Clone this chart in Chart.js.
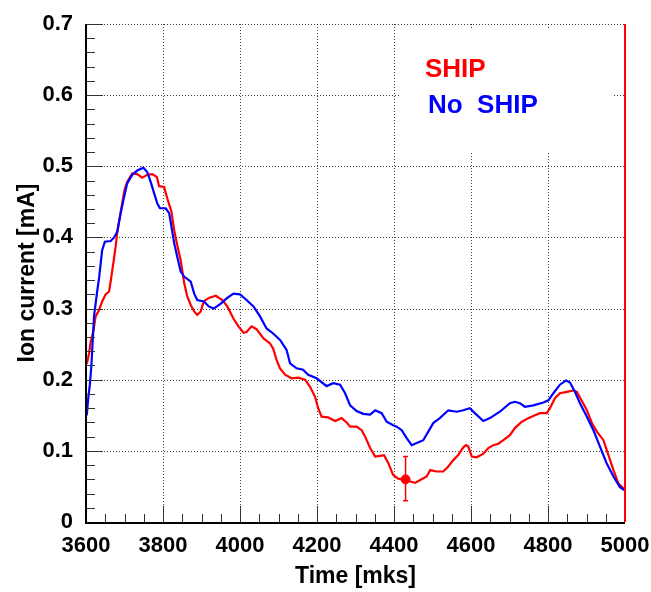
<!DOCTYPE html>
<html>
<head>
<meta charset="utf-8">
<script src="https://cdn.jsdelivr.net/npm/chart.js@4/dist/chart.umd.min.js"></script>
<style>
html,body{margin:0;padding:0;background:#fff;}
canvas{display:block;}
</style>
</head>
<body>
<canvas id="c" width="651" height="592"></canvas>
<script>
// ---- data ----
const noShipX = [3602,3606,3610,3614,3618,3621,3629,3634,3642,3649,3664,3673,3681,3690,3699,3707,3720,3733,3749,3759,3768,3777,3785,3792,3807,3816,3822,3829,3837,3846,3855,3872,3881,3889,3906,3919,3932,3950,3967,3983,4000,4017,4035,4052,4069,4086,4104,4121,4130,4147,4164,4177,4199,4225,4242,4260,4273,4286,4303,4320,4338,4351,4368,4381,4398,4407,4420,4433,4446,4459,4476,4489,4502,4519,4541,4563,4580,4597,4610,4632,4649,4675,4701,4714,4727,4740,4762,4788,4801,4814,4831,4847,4857,4870,4883,4901,4918,4935,4952,4970,4987,5000];
const noShipY = [0.150,0.175,0.193,0.220,0.260,0.290,0.324,0.343,0.382,0.394,0.395,0.400,0.408,0.434,0.457,0.476,0.488,0.494,0.498,0.492,0.478,0.462,0.448,0.441,0.441,0.434,0.415,0.392,0.373,0.352,0.345,0.338,0.321,0.312,0.310,0.303,0.300,0.307,0.315,0.321,0.320,0.312,0.303,0.289,0.272,0.265,0.256,0.242,0.223,0.216,0.214,0.207,0.202,0.191,0.195,0.193,0.181,0.164,0.156,0.152,0.151,0.157,0.153,0.141,0.136,0.134,0.129,0.118,0.108,0.111,0.115,0.127,0.139,0.146,0.157,0.155,0.157,0.160,0.153,0.142,0.146,0.155,0.167,0.169,0.167,0.162,0.164,0.168,0.171,0.181,0.193,0.199,0.196,0.183,0.167,0.148,0.129,0.106,0.083,0.064,0.049,0.044];

const shipX = [3602,3608,3612,3619,3625,3634,3642,3651,3660,3664,3671,3677,3681,3688,3694,3700,3707,3720,3733,3746,3759,3772,3784,3790,3803,3811,3822,3829,3837,3846,3855,3863,3872,3881,3889,3898,3906,3919,3937,3954,3967,3983,3996,4009,4017,4030,4043,4061,4078,4086,4095,4104,4117,4134,4151,4169,4182,4195,4203,4212,4229,4247,4264,4277,4286,4303,4316,4325,4338,4351,4364,4374,4385,4398,4411,4429,4442,4455,4468,4485,4494,4511,4528,4541,4554,4567,4580,4587,4593,4602,4615,4632,4645,4658,4671,4684,4701,4714,4732,4749,4766,4779,4797,4805,4818,4831,4849,4866,4875,4887,4901,4914,4927,4944,4957,4970,4983,4996,5000];
const shipY = [0.222,0.237,0.253,0.268,0.289,0.298,0.310,0.320,0.324,0.338,0.364,0.387,0.406,0.429,0.448,0.467,0.478,0.490,0.489,0.484,0.488,0.489,0.485,0.472,0.471,0.455,0.436,0.410,0.389,0.368,0.336,0.317,0.305,0.296,0.291,0.296,0.310,0.315,0.318,0.312,0.303,0.286,0.275,0.266,0.267,0.275,0.271,0.258,0.251,0.244,0.228,0.216,0.207,0.202,0.203,0.200,0.190,0.176,0.160,0.148,0.147,0.142,0.146,0.140,0.134,0.134,0.129,0.120,0.104,0.092,0.093,0.094,0.083,0.066,0.061,0.059,0.057,0.055,0.059,0.064,0.073,0.071,0.071,0.078,0.087,0.094,0.105,0.108,0.106,0.092,0.091,0.096,0.104,0.108,0.110,0.115,0.122,0.132,0.141,0.146,0.150,0.153,0.153,0.160,0.174,0.181,0.183,0.185,0.183,0.171,0.157,0.139,0.127,0.115,0.094,0.073,0.054,0.047,0.045];

// single point with error bar on the SHIP curve
const errX = [4430];
const errY = [0.060];
const errLow = [0.030];
const errHigh = [0.092];

const legendLabels = ['SHIP', 'No  SHIP'];
const xTicks = [3600, 3800, 4000, 4200, 4400, 4600, 4800, 5000];
const yTicks = [0, 0.1, 0.2, 0.3, 0.4, 0.5, 0.6, 0.7];
const xMinorStep = 50;
const yMinorStep = 0.02;

const RED = '#ff0000';
const BLUE = '#0000ff';
const FONT = "'Liberation Sans', Arial, sans-serif";

const toPts = (xs, ys) => xs.map((x, i) => ({x: x, y: ys[i]}));

const rootStyle = {
  id: 'rootStyle',
  beforeDatasetsDraw(chart) {
    const {ctx, chartArea: a, scales: {x, y}} = chart;
    ctx.save();
    // dotted grid
    ctx.strokeStyle = 'rgba(0,0,0,0.75)';
    ctx.lineWidth = 1;
    ctx.setLineDash([1, 2]);
    xTicks.forEach(v => {
      const px = Math.round(x.getPixelForValue(v)) + 0.5;
      ctx.beginPath(); ctx.moveTo(px, a.top); ctx.lineTo(px, a.bottom); ctx.stroke();
    });
    yTicks.forEach(v => {
      const py = Math.round(y.getPixelForValue(v)) + 0.5;
      ctx.beginPath(); ctx.moveTo(a.left, py); ctx.lineTo(a.right, py); ctx.stroke();
    });
    ctx.setLineDash([]);
    // legend background box
    ctx.fillStyle = '#ffffff';
    ctx.fillRect(a.left + 314, a.top + 5, 212, 124);
    ctx.restore();
  },
  afterDatasetsDraw(chart) {
    const {ctx, chartArea: a, scales: {x, y}} = chart;
    ctx.save();
    // error bar
    ctx.strokeStyle = RED; ctx.lineWidth = 1.5;
    errX.forEach((ex, i) => {
      const px = x.getPixelForValue(ex);
      const p1 = y.getPixelForValue(errLow[i]);
      const p2 = y.getPixelForValue(errHigh[i]);
      ctx.beginPath();
      ctx.moveTo(px, p1); ctx.lineTo(px, p2);
      ctx.moveTo(px - 2.5, p1); ctx.lineTo(px + 2.5, p1);
      ctx.moveTo(px - 2.5, p2); ctx.lineTo(px + 2.5, p2);
      ctx.stroke();
    });
    // tick marks (inside)
    ctx.strokeStyle = '#333'; ctx.lineWidth = 1;
    const x0 = xTicks[0], x1 = xTicks[xTicks.length - 1];
    for (let v = x0; v <= x1 + 1e-6; v += xMinorStep) {
      const px = Math.round(x.getPixelForValue(v)) + 0.5;
      const major = Math.abs((v - x0) % 200) < 1e-6;
      const len = major ? 16 : 8;
      ctx.beginPath(); ctx.moveTo(px, a.bottom); ctx.lineTo(px, a.bottom - len); ctx.stroke();
    }
    for (let k = 0; k <= 35; k++) {
      const v = k * yMinorStep;
      const py = Math.round(y.getPixelForValue(v)) + 0.5;
      const len = (k % 5 === 0) ? 17 : 9;
      ctx.beginPath(); ctx.moveTo(a.left, py); ctx.lineTo(a.left + len, py); ctx.stroke();
    }
    // axes
    ctx.strokeStyle = '#000'; ctx.lineWidth = 2;
    ctx.beginPath(); ctx.moveTo(a.left, a.top); ctx.lineTo(a.left, a.bottom + 1); ctx.lineTo(a.right, a.bottom + 1); ctx.stroke();
    // right edge (red)
    ctx.strokeStyle = RED; ctx.lineWidth = 2;
    ctx.beginPath(); ctx.moveTo(a.right, a.top); ctx.lineTo(a.right, a.bottom); ctx.stroke();
    // legend text
    ctx.font = 'bold 26px ' + FONT;
    ctx.textBaseline = 'alphabetic';
    ctx.textAlign = 'left';
    ctx.fillStyle = RED;
    ctx.fillText(legendLabels[0], a.left + 339, a.top + 53);
    ctx.fillStyle = BLUE;
    ctx.fillText(legendLabels[1], a.left + 342, a.top + 89);
    ctx.restore();
  }
};

new Chart(document.getElementById('c'), {
  type: 'scatter',
  data: {
    datasets: [
      {label: 'No SHIP', data: toPts(noShipX, noShipY), showLine: true, borderColor: BLUE, borderWidth: 2.2, pointRadius: 0, tension: 0, order: 1},
      {label: 'SHIP', data: toPts(shipX, shipY), showLine: true, borderColor: RED, borderWidth: 2.2, pointRadius: 0, tension: 0, order: 2},
      {label: 'SHIP point', data: toPts(errX, errY), showLine: false, backgroundColor: RED, borderColor: RED, pointRadius: 4.5, order: 0}
    ]
  },
  options: {
    responsive: false,
    animation: false,
    devicePixelRatio: 1,
    layout: {padding: {top: 24, right: 26, left: 0, bottom: 0}},
    plugins: {legend: {display: false}, tooltip: {enabled: false}},
    scales: {
      x: {
        type: 'linear', min: 3600, max: 5000,
        afterFit: s => { s.height = 70; s.paddingLeft = 0; s.paddingRight = 0; },
        afterBuildTicks: s => { s.ticks = xTicks.map(v => ({value: v})); },
        grid: {display: false, drawTicks: false},
        border: {display: false},
        ticks: {color: '#000', padding: 11, maxRotation: 0, font: {family: FONT, size: 22, weight: 'bold'}, callback: v => String(v)},
        title: {display: true, text: 'Time [mks]', color: '#000', padding: {top: 0, bottom: 2}, font: {family: FONT, size: 23, weight: 'bold'}}
      },
      y: {
        type: 'linear', min: 0, max: 0.7,
        afterFit: s => { s.width = 86; s.paddingTop = 0; s.paddingBottom = 0; },
        afterBuildTicks: s => { s.ticks = yTicks.map(v => ({value: v})); },
        grid: {display: false, drawTicks: false},
        border: {display: false},
        ticks: {color: '#000', padding: 13, font: {family: FONT, size: 22, weight: 'bold'}, callback: v => (v === 0 ? '0' : v.toFixed(1))},
        title: {display: true, text: 'Ion current [mA]', color: '#000', padding: {top: 14, bottom: 0}, font: {family: FONT, size: 23, weight: 'bold'}}
      }
    }
  },
  plugins: [rootStyle]
});
</script>
</body>
</html>
